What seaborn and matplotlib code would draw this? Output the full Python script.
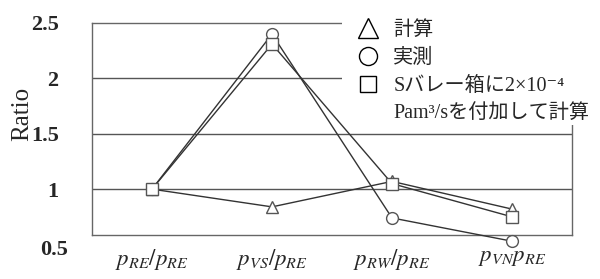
import numpy as np
import pandas as pd
import matplotlib
matplotlib.use('Agg')
import matplotlib.pyplot as plt
import matplotlib.transforms as mtransforms
import seaborn as sns
from matplotlib.lines import Line2D

CATEGORIES = [r'$p_{RE}/p_{RE}$', r'$p_{VS}/p_{RE}$', r'$p_{RW}/p_{RE}$', r'$p_{VN}p_{RE}$']
SERIES = ['計算', '実測', 'S']
CALC = [1.00, 0.84, 1.07, 0.82]
MEASURED = [1.00, 2.40, 0.74, 0.53]
S_ADDED = [1.00, 2.31, 1.05, 0.75]
LEGEND_LABELS = ['計算', '実測', 'Sバレー箱に2×10⁻⁴', 'Pam³/sを付加して計算']
Y_TICKS = [1, 1.5, 2, 2.5]
Y_TICKLABELS = ['1', '1.5', '2', '2.5']

sns.set_style('white')
plt.rcParams['font.family'] = ['Liberation Serif', 'Noto Sans CJK JP', 'DejaVu Serif']
plt.rcParams['mathtext.fontset'] = 'stix'


def make_dataframe() -> pd.DataFrame:
    """Long-form table for seaborn"""
    rows = []
    for name, vals in zip(SERIES, [CALC, MEASURED, S_ADDED]):
        for i, v in enumerate(vals):
            rows.append({'x': i, 'Ratio': v, 'series': name})
    return pd.DataFrame(rows)


def draw() -> None:
    df = make_dataframe()
    fig = plt.figure(figsize=(6, 2.79), dpi=100)
    ax = fig.add_axes([92 / 600, 1 - 235 / 279, 480 / 600, 212 / 279])

    for y in [1, 1.5, 2]:
        ax.axhline(y, color='#555555', lw=1, zorder=1)

    sns.lineplot(data=df, x='x', y='Ratio', hue='series', style='series',
                 palette={s: '#333333' for s in SERIES},
                 markers={'計算': '^', '実測': 'o', 'S': 's'},
                 dashes=False, sort=False, ax=ax, legend=False,
                 lw=1, markersize=8.5, markerfacecolor='white',
                 markeredgecolor='#555555', mew=1, clip_on=False, zorder=3)

    ax.set_xlim(-0.5, 3.5)
    ax.set_ylim(0.586, 2.5)
    ax.set_yticks(Y_TICKS)
    ax.set_yticklabels(Y_TICKLABELS, fontweight='bold')
    ax.text(-0.05, 0.455, '0.5', transform=ax.get_yaxis_transform(),
            ha='right', va='center', fontsize=16, fontweight='bold', clip_on=False)
    ax.set_xticks(range(len(CATEGORIES)))
    ax.set_xticklabels(CATEGORIES, fontsize=16.5)
    # last label sits a bit left of its category in the original
    lbl = ax.get_xticklabels()[-1]
    lbl.set_transform(lbl.get_transform() +
                      mtransforms.ScaledTranslation(-0.09, 0, fig.dpi_scale_trans))
    ax.set_xticks([0.5, 1.5, 2.5], minor=True)
    ax.tick_params(axis='x', which='major', length=0, pad=9)
    ax.tick_params(axis='x', which='minor', direction='in', length=5,
                   color='#444444', width=1)
    ax.tick_params(axis='y', length=0, pad=24, labelsize=16)
    ax.set_xlabel('')
    ax.set_ylabel('')
    for sp in ax.spines.values():
        sp.set_color('#666666')
        sp.set_linewidth(1)
    fig.text(22 / 600, 1 - 114 / 279, 'Ratio', rotation=90,
             ha='center', va='center', fontsize=18)

    handles = [
        Line2D([], [], marker='^', ls='none', mfc='white', mec='black', ms=14, mew=1),
        Line2D([], [], marker='o', ls='none', mfc='white', mec='black', ms=13, mew=1),
        Line2D([], [], marker='s', ls='none', mfc='white', mec='black', ms=11, mew=1),
        Line2D([], [], ls='none'),
    ]
    leg = fig.legend(handles, LEGEND_LABELS, loc='upper left',
                     bbox_to_anchor=(342 / 600, 1 - 19 / 279), frameon=True,
                     facecolor='white', edgecolor='none', framealpha=1,
                     fontsize=14.5, handlelength=2.4, handletextpad=0.05,
                     labelspacing=0.43, borderpad=0.1, borderaxespad=0)
    leg.set_zorder(10)

    fig.savefig('out.png', dpi=100)
    plt.close(fig)


if __name__ == '__main__':
    draw()
